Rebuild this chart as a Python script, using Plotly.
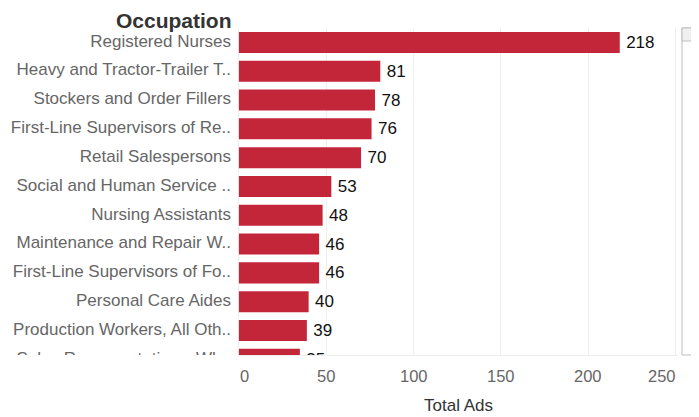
import plotly.graph_objects as go

categories = [
    "Registered Nurses",
    "Heavy and Tractor-Trailer T..",
    "Stockers and Order Fillers",
    "First-Line Supervisors of Re..",
    "Retail Salespersons",
    "Social and Human Service ..",
    "Nursing Assistants",
    "Maintenance and Repair W..",
    "First-Line Supervisors of Fo..",
    "Personal Care Aides",
    "Production Workers, All Oth..",
    "Sales Representatives, Wh..",
]
total_ads = [218, 81, 78, 76, 70, 53, 48, 46, 46, 40, 39, 35]
x_ticks = [0, 50, 100, 150, 200, 250]

# page body has an 8px default margin; lay out in screen pixels minus that
OFF = 8
W, H = 699 - OFF, 417 - OFF
BAR_COLOR = "#c32638"
FONT = "Liberation Sans, Arial, sans-serif"


def px(x):
    return (x - OFF) / W


fig = go.Figure()

fig.add_trace(go.Bar(
    x=total_ads, y=categories, orientation="h",
    marker=dict(color=BAR_COLOR, line=dict(width=0)),
    width=0.73,
    text=[str(v) for v in total_ads], texttemplate="\u2009%{text}",
    textposition="outside",
    textfont=dict(family=FONT, size=17, color="#111111"),
    cliponaxis=True, hoverinfo="skip",
    xaxis="x", yaxis="y",
))

fig.add_trace(go.Scatter(
    x=[1] * len(categories), y=categories, mode="text",
    text=categories, textposition="middle left",
    textfont=dict(family=FONT, size=17, color="#666666"),
    cliponaxis=True, hoverinfo="skip", showlegend=False,
    xaxis="x2", yaxis="y",
))

x0_px, x1_px = 238.7, 678.0
scale = (675.7 - 238.7) / 250.0
xmax = (x1_px - x0_px) / scale

fig.update_layout(
    width=W, height=H,
    margin=dict(l=0, r=0, t=28 - OFF, b=62),
    paper_bgcolor="white", plot_bgcolor="white",
    showlegend=False,
    xaxis=dict(
        domain=[px(x0_px), px(x1_px)], range=[0, xmax],
        showgrid=True, gridcolor="#efefef", gridwidth=1,
        tickvals=x_ticks, showticklabels=False,
        zeroline=True, zerolinecolor="#efefef", zerolinewidth=1,
        showline=True, linecolor="#eeeeee", linewidth=1,
        ticks="", fixedrange=True,
    ),
    xaxis2=dict(
        domain=[0, px(231)], range=[0, 1.0],
        showgrid=False, zeroline=False, showticklabels=False,
        anchor="y", fixedrange=True,
    ),
    yaxis=dict(
        type="category", categoryorder="array", categoryarray=categories,
        range=[10.85, -0.5],
        showgrid=False, zeroline=False, showticklabels=False,
        showline=False, fixedrange=True,
    ),
)

shifts = {0: 6, 250: -14}
for v in x_ticks:
    fig.add_annotation(
        x=v, xref="x", y=0, yref="paper", yanchor="top", yshift=-10,
        xshift=shifts.get(v, 0),
        text=str(v), showarrow=False,
        font=dict(family=FONT, size=16.5, color="#666666"),
    )

fig.add_annotation(
    x=px((x0_px + x1_px) / 2), xref="paper", y=0, yref="paper",
    yanchor="middle", yshift=-50, text="Total Ads", showarrow=False,
    font=dict(family=FONT, size=17, color="#333333"),
)

fig.add_annotation(
    x=px(233), xref="paper", xanchor="right", y=1, yref="paper",
    yanchor="bottom", yshift=-5, text="<b>Occupation</b>", showarrow=False,
    font=dict(family=FONT, size=21, color="#333333"), borderpad=0,
)

# scrollbar
fig.add_shape(type="rect", xref="paper", yref="paper",
              x0=px(682), x1=1.02, y0=0, y1=1,
              line=dict(color="#bdbdbd", width=1), fillcolor="white", layer="above")
fig.add_shape(type="rect", xref="paper", yref="paper",
              x0=px(682), x1=1.02, y0=1 - 13 / 327, y1=1,
              line=dict(color="#bdbdbd", width=1), fillcolor="#f0f0f0", layer="above")

fig.write_html("out.html")
